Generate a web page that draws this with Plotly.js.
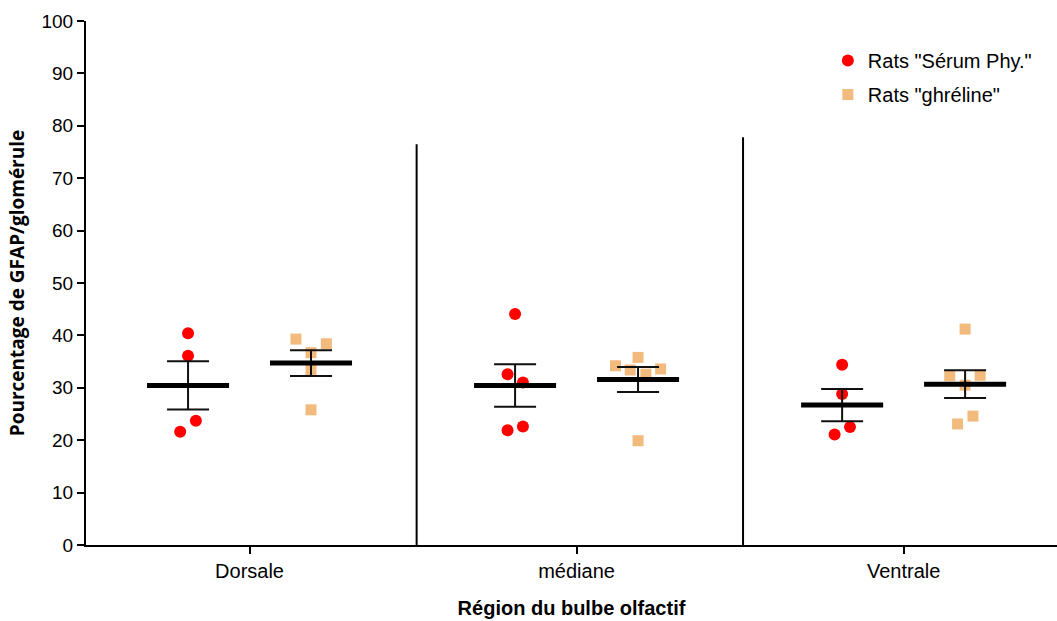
<!DOCTYPE html>
<html>
<head>
<meta charset="utf-8">
<script src="https://cdn.plot.ly/plotly-3.0.1.min.js"></script>
<style>html,body{margin:0;padding:0;background:#fff;}#chart{width:1057px;height:621px;}</style>
</head>
<body>
<div id="chart"></div>
<script>
// Categories and tick labels
const categories = ["Dorsale", "médiane", "Ventrale"];
const seriesNames = ['Rats "Sérum Phy."', 'Rats "ghréline"'];

// Values (percentage GFAP / glomérule)
const serumDorsale   = [40.4, 36.1, 23.7, 21.6];
const serumMediane   = [44.1, 32.6, 31.0, 22.6, 21.9];
const serumVentrale  = [34.4, 28.8, 22.5, 21.1];
const ghrelDorsale   = [39.3, 38.4, 36.7, 33.4, 25.8];
const ghrelMediane   = [35.8, 34.2, 33.4, 33.6, 32.6, 19.9];
const ghrelVentrale  = [41.2, 32.3, 32.4, 30.5, 24.6, 23.1];

// Horizontal scatter of the points inside each group (category units)
const serumJitter = [[0, 0, 0.024, -0.024], [0, -0.023, 0.024, 0.024, -0.023], [0, 0, 0.024, -0.023]];
const ghrelJitter = [[-0.046, 0.047, 0, 0, 0], [0, -0.069, -0.024, 0.069, 0.024, 0], [0, -0.047, 0.046, 0, 0.024, -0.023]];

const serumGroups = [serumDorsale, serumMediane, serumVentrale];
const ghrelGroups = [ghrelDorsale, ghrelMediane, ghrelVentrale];

const GROUP_OFFSET = 0.188;
const catPos = categories.map((c, i) => i + 1);

function mean(a) { return a.reduce((s, v) => s + v, 0) / a.length; }
function sem(a) {
  const m = mean(a);
  const v = a.reduce((s, x) => s + (x - m) * (x - m), 0) / (a.length - 1);
  return Math.sqrt(v) / Math.sqrt(a.length);
}

function pointsTrace(groups, jitter, offset, name, symbol, size, color, lg) {
  const xs = [], ys = [];
  groups.forEach((g, i) => g.forEach((v, j) => { xs.push(catPos[i] + offset + jitter[i][j]); ys.push(v); }));
  return {
    type: 'scatter', mode: 'markers', x: xs, y: ys, name: name, legendgroup: lg,
    marker: { symbol: symbol, size: size, color: color, line: { width: 0 } },
    hoverinfo: 'y'
  };
}

function meanTrace(groups, offset) {
  return {
    type: 'scatter', mode: 'markers', showlegend: false,
    x: catPos.map(p => p + offset),
    y: groups.map(mean),
    marker: { symbol: 'line-ew', size: 58.6, color: '#000', line: { width: 5, color: '#000' } },
    error_y: { type: 'data', array: groups.map(sem), visible: true, color: '#111', thickness: 2, width: 21 },
    hoverinfo: 'y'
  };
}

const data = [
  pointsTrace(serumGroups, serumJitter, -GROUP_OFFSET, seriesNames[0], 'circle', 12, '#FF0000', 'a'),
  pointsTrace(ghrelGroups, ghrelJitter, GROUP_OFFSET, seriesNames[1], 'square', 11, '#F3BA7E', 'b'),
  meanTrace(serumGroups, -GROUP_OFFSET),
  meanTrace(ghrelGroups, GROUP_OFFSET)
];

const layout = {
  width: 1057, height: 621,
  margin: { l: 86, r: 0, t: 21, b: 76 },
  paper_bgcolor: '#fff', plot_bgcolor: '#fff',
  font: { family: 'Liberation Sans, Arial, sans-serif', color: '#000', size: 19 },
  showlegend: true,
  legend: {
    x: 0.764, y: 0.962, xanchor: 'left', yanchor: 'top',
    font: { size: 20, color: '#000' }, traceorder: 'grouped', tracegroupgap: 5,
    bgcolor: 'rgba(0,0,0,0)'
  },
  xaxis: {
    range: [0.5, 3.469], tickmode: 'array', tickvals: catPos, ticktext: categories,
    showgrid: false, zeroline: false, showline: true, linecolor: '#000', linewidth: 2,
    ticks: 'outside', ticklen: 7, tickwidth: 2, tickcolor: '#000',
    tickfont: { size: 20 },
    title: { text: 'Région du bulbe olfactif', font: { size: 20, family: 'Liberation Sans, Arial, sans-serif', weight: 'bold' }, standoff: 20 }
  },
  yaxis: {
    range: [0, 100], dtick: 10, tick0: 0,
    showgrid: false, zeroline: false, showline: true, linecolor: '#000', linewidth: 2,
    ticks: 'outside', ticklen: 7, tickwidth: 2, tickcolor: '#000',
    tickfont: { size: 19 },
    title: { text: 'Pourcentage de GFAP/glomérule', font: { size: 19, family: 'Open Sans, sans-serif', weight: 'bold' }, standoff: 12 }
  },
  shapes: [
    { type: 'line', xref: 'x', yref: 'y', x0: 1.511, x1: 1.511, y0: 0, y1: 76.5, line: { color: '#000', width: 2 } },
    { type: 'line', xref: 'x', yref: 'y', x0: 2.509, x1: 2.509, y0: 0, y1: 77.8, line: { color: '#000', width: 2 } }
  ]
};

Plotly.newPlot('chart', data, layout, { displayModeBar: false, staticPlot: true });
</script>
</body>
</html>
